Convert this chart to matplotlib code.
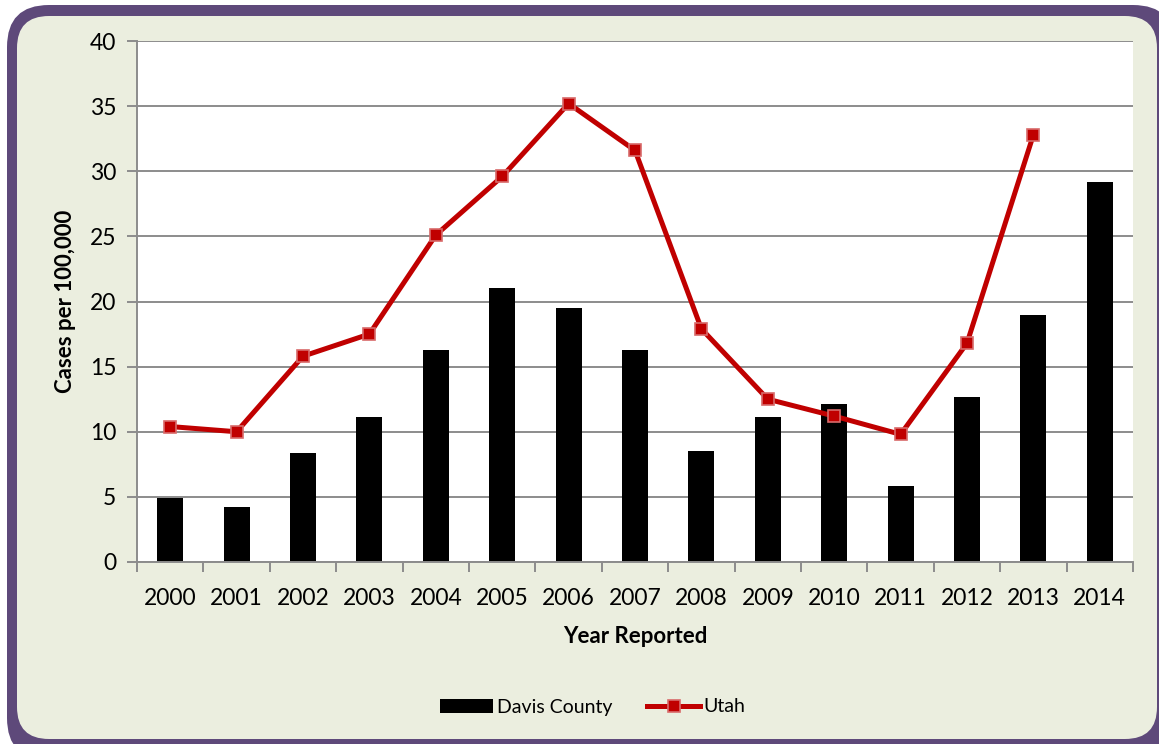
import matplotlib as mpl
import matplotlib.pyplot as plt
from matplotlib.patches import FancyBboxPatch
from matplotlib.transforms import IdentityTransform
import numpy as np

mpl.rcParams["font.family"] = ["Lato", "DejaVu Sans"]

years = ["2000", "2001", "2002", "2003", "2004", "2005", "2006", "2007",
         "2008", "2009", "2010", "2011", "2012", "2013", "2014"]
davis = [4.9, 4.2, 8.4, 11.1, 16.3, 21.0, 19.5, 16.3,
         8.5, 11.1, 12.1, 5.8, 12.7, 19.0, 29.2]
utah = [10.4, 10.0, 15.8, 17.5, 25.1, 29.6, 35.2, 31.6,
        17.9, 12.5, 11.2, 9.8, 16.8, 32.8, np.nan]

PURPLE = "#5e497a"
PANEL = "#ebeedf"
RED = "#c00000"
GRID = "#8c8c8c"

W, H = 1159, 744
fig = plt.figure(figsize=(W / 100, H / 100), dpi=100)
fig.patch.set_facecolor("white")


def box(x0, y0, x1, y1, r, color):
    # pixel coords measured from top-left
    p = FancyBboxPatch((x0, H - y1), x1 - x0, y1 - y0,
                       boxstyle="round,pad=0,rounding_size=%d" % r,
                       transform=IdentityTransform(), facecolor=color,
                       edgecolor="none", zorder=-5)
    fig.patches.append(p)


# purple shadow frame, then the light panel on top
box(7, 5, 1175, 760, 42, PURPLE)
box(17, 16, 1157, 739, 32, PANEL)

ax = fig.add_axes([137 / W, 1 - 562 / H, 996 / W, 521 / H])
ax.set_facecolor("white")

x = np.arange(len(years))
bars = ax.bar(x, davis, width=0.39, color="black", label="Davis County",
              zorder=2)
line, = ax.plot(x, utah, color=RED, lw=3.6, marker="s", markersize=8,
                markerfacecolor=RED, markeredgecolor="#d86a6a",
                markeredgewidth=1.2, label="Utah", zorder=3)

ax.set_xlim(-0.5, len(years) - 0.5)
ax.set_ylim(0, 40)
ax.set_yticks(np.arange(0, 41, 5))
ax.yaxis.grid(True, color=GRID, lw=1.4, zorder=0)
ax.set_axisbelow(True)

ax.set_xticks(x)
ax.set_xticklabels(years, fontsize=16.5)
ax.set_xticks(np.arange(-0.5, len(years), 1), minor=True)
ax.tick_params(axis="x", which="major", length=0, pad=19)
ax.tick_params(axis="x", which="minor", length=7, width=1.4, color=GRID,
               direction="out")
ax.tick_params(axis="y", length=7, width=1.4, color=GRID, direction="out",
               labelsize=16.5, pad=8)

for s in ["top", "right"]:
    ax.spines[s].set_visible(False)
for s in ["left", "bottom"]:
    ax.spines[s].set_color(GRID)
    ax.spines[s].set_linewidth(1.4)

ax.set_xlabel("Year Reported", fontsize=16, fontweight="bold", labelpad=12)
ax.set_ylabel("Cases per 100,000", fontsize=16, fontweight="bold", labelpad=10)

fig.legend([bars, line], ["Davis County", "Utah"], loc="center",
           bbox_to_anchor=(593 / W, 1 - 707 / H),
           ncol=2, frameon=False, fontsize=14, handlelength=2.7,
           handletextpad=0.2, columnspacing=1.8)

fig.savefig("out.png", dpi=100)
